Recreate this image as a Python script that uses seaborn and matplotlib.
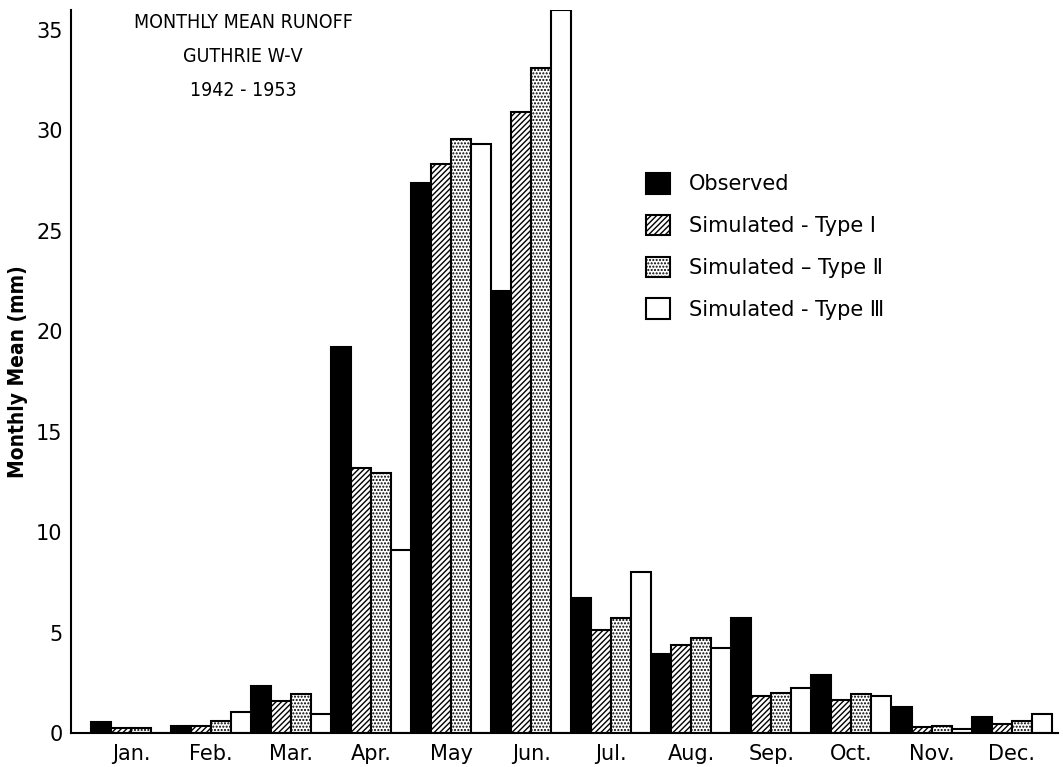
import numpy as np
import pandas as pd
import matplotlib
matplotlib.use("Agg")
import matplotlib.pyplot as plt
from matplotlib.patches import Patch
import seaborn as sns

months = ["Jan.", "Feb.", "Mar.", "Apr.", "May", "Jun.", "Jul.", "Aug.", "Sep.", "Oct.", "Nov.", "Dec."]
series = ["Observed", "Simulated - Type Ⅰ", "Simulated – Type Ⅱ", "Simulated - Type Ⅲ"]
observed = [0.55, 0.35, 2.35, 19.2, 27.4, 22.0, 6.7, 3.95, 5.75, 2.9, 1.3, 0.8]
type_1 = [0.25, 0.35, 1.6, 13.2, 28.35, 30.9, 5.15, 4.4, 1.85, 1.65, 0.3, 0.45]
type_2 = [0.25, 0.6, 1.95, 12.95, 29.6, 33.1, 5.75, 4.75, 2.0, 1.95, 0.35, 0.6]
type_3 = [0.0, 1.05, 0.95, 9.1, 29.35, 36.0, 8.0, 4.25, 2.25, 1.85, 0.2, 0.95]

title_lines = ["MONTHLY MEAN RUNOFF", "GUTHRIE W-Ⅴ", "1942 - 1953"]
y_ticks = [0, 5, 10, 15, 20, 25, 30, 35]

df = pd.DataFrame({
    "month": months * 4,
    "series": sum([[s] * len(months) for s in series], []),
    "value": observed + type_1 + type_2 + type_3,
})

sns.set_style("white")
plt.rcParams["font.family"] = ["DejaVu Sans", "Noto Sans CJK SC"]
plt.rcParams["hatch.linewidth"] = 1.0
plt.rcParams["text.color"] = "black"
plt.rcParams["axes.labelcolor"] = "black"
plt.rcParams["xtick.color"] = "black"
plt.rcParams["ytick.color"] = "black"

fig = plt.figure(figsize=(10.63, 7.67), dpi=100)
ax = fig.add_axes([71 / 1063, 1 - 733 / 767, (1058 - 71) / 1063, (733 - 10) / 767])

facecolors = ["black", "white", "white", "white"]
hatches = [None, "//////", ".....", None]

sns.barplot(data=df, x="month", y="value", hue="series", order=months,
            hue_order=series, palette=facecolors, width=1.0, saturation=1,
            edgecolor="black", linewidth=1.5, legend=False, ax=ax, errorbar=None)

for cont, h in zip(ax.containers, hatches):
    for p in cont:
        if h:
            p.set_hatch(h)

ax.set_xlim(-0.75, 11.58)
ax.set_ylim(0, 36)
ax.set_yticks(y_ticks)
ax.set_yticklabels([str(t) for t in y_ticks], fontsize=15)
ax.tick_params(axis="y", direction="in", length=12, width=1.5, pad=6, colors="black")
ax.set_xticks(range(len(months)))
ax.set_xticklabels(months, fontsize=15)
ax.tick_params(axis="x", which="major", length=0, pad=8)
ax.set_xticks(np.arange(0.5, 12, 1.0), minor=True)
ax.tick_params(axis="x", which="minor", direction="out", length=9, width=1.5, color="black")
ax.set_xlabel("")
ax.set_ylabel("Monthly Mean (mm)", fontsize=15, labelpad=6, fontweight="semibold",
              fontstretch="condensed")

for side in ["top", "right"]:
    ax.spines[side].set_visible(False)
for side in ["left", "bottom"]:
    ax.spines[side].set_color("black")
    ax.spines[side].set_linewidth(1.5)

for i, line in enumerate(title_lines):
    fig.text(243 / 1063, 1 - (22 + i * 34) / 767, line, ha="center", va="center",
             fontsize=14, fontstretch="condensed")

handles = [Patch(facecolor=c, edgecolor="black", hatch=h, linewidth=1.5)
           for c, h in zip(facecolors, hatches)]
fig.legend(handles, series, loc="upper left", bbox_to_anchor=(646 / 1063, 1 - 173 / 767),
           frameon=False, fontsize=15, handlelength=1.15, handleheight=1.15,
           handletextpad=0.9, labelspacing=0.98, borderpad=0, borderaxespad=0)

fig.savefig("out.png", dpi=100)
